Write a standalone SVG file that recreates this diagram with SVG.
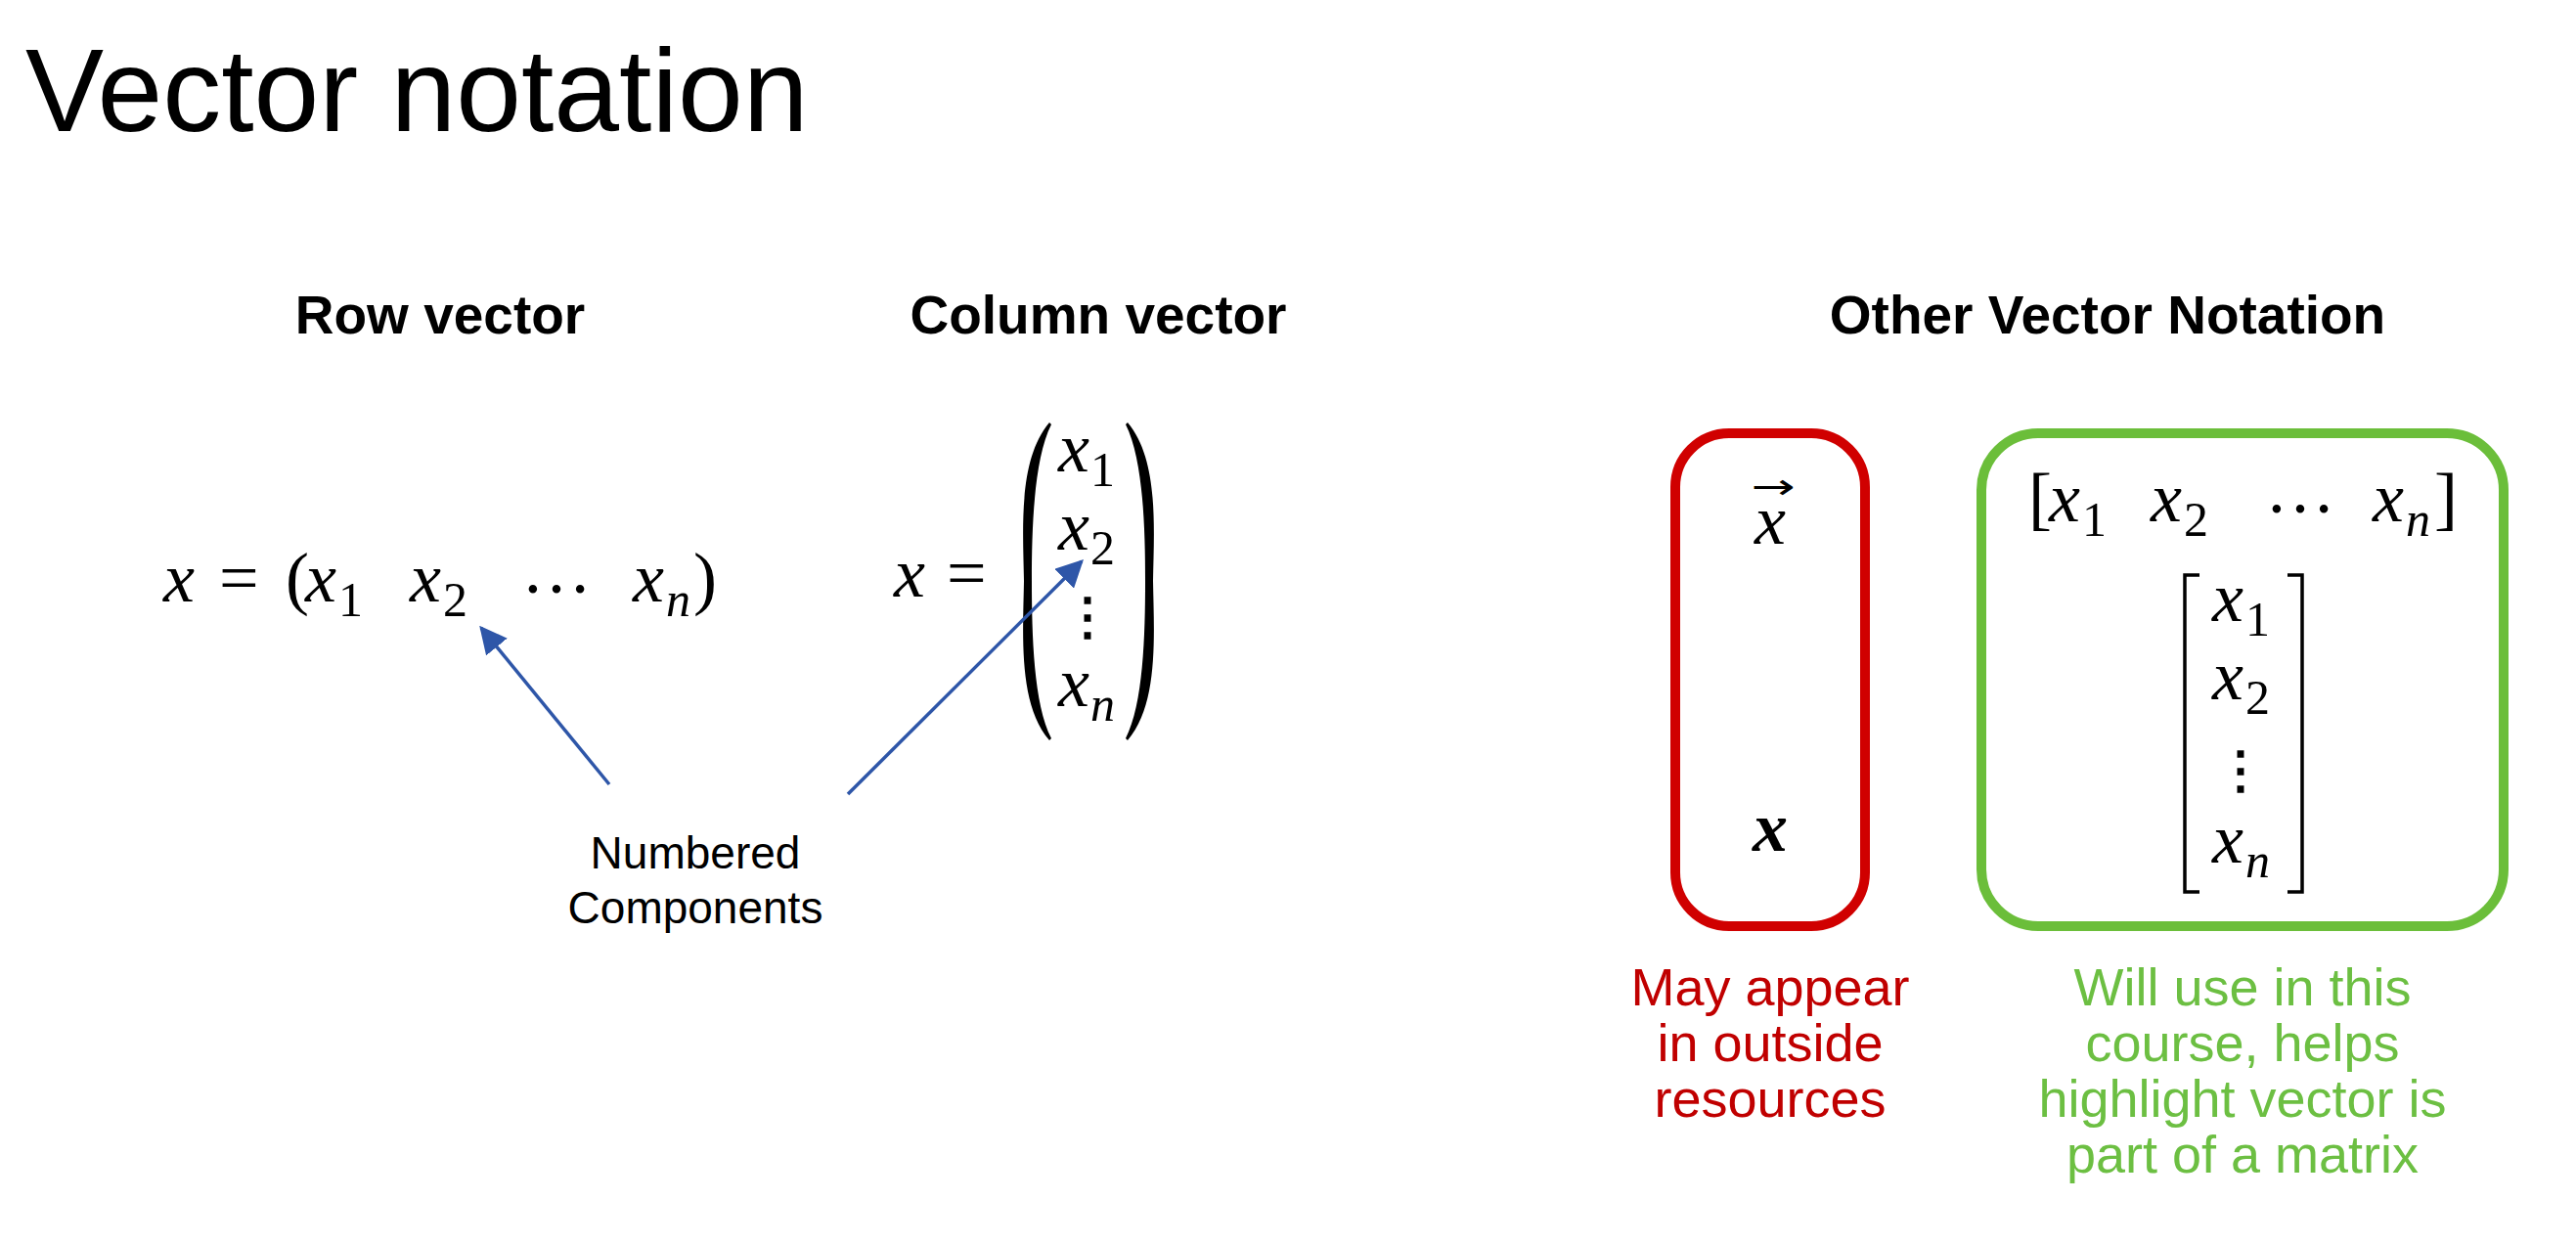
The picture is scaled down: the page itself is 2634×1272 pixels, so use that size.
<svg xmlns="http://www.w3.org/2000/svg" width="2634" height="1272" viewBox="0 0 2634 1272">
<style>
.title{font-family:"Liberation Sans",Arial,sans-serif;font-size:120px;fill:#000}
.head{font-family:"Liberation Sans",Arial,sans-serif;font-size:55px;font-weight:bold;fill:#000;text-anchor:middle}
.lbl{font-family:"Liberation Sans",Arial,sans-serif;font-size:46px;fill:#000;text-anchor:middle}
.red{font-family:"Liberation Sans",Arial,sans-serif;font-size:54px;fill:#C00000;text-anchor:middle}
.green{font-family:"Liberation Sans",Arial,sans-serif;font-size:54px;fill:#6CBF42;text-anchor:middle}
.m{font-family:"Liberation Serif","Times New Roman",serif;font-size:72px;fill:#000}
.mi{font-family:"Liberation Serif","Times New Roman",serif;font-size:72px;font-style:italic;fill:#000}
.sub{font-family:"Liberation Serif","Times New Roman",serif;font-size:50px;fill:#000}
.subi{font-family:"Liberation Serif","Times New Roman",serif;font-size:50px;font-style:italic;fill:#000}
.vd{font-family:"DejaVu Serif",serif;font-size:52px;font-weight:bold;fill:#000;text-anchor:middle}
.conn{stroke:#2E56A8;stroke-width:3.5;fill:none}
.brk{stroke:#000;stroke-width:3.5;fill:none}
</style>
<defs>
<marker id="ah" viewBox="0 0 10 10" refX="9" refY="5" markerWidth="8" markerHeight="8" markerUnits="strokeWidth" orient="auto">
<path d="M0,0 L10,5 L0,10 Z" fill="#2E56A8"/>
</marker>
</defs>
<rect width="2634" height="1272" fill="#fff"/>

<g id="title"><text class="title" x="26" y="134">Vector notation</text></g>

<g id="row-vector">
<text class="head" x="450" y="341">Row vector</text>
<text class="mi" x="167" y="615">x</text>
<text class="m" x="224" y="615">=</text>
<text class="m" x="292" y="615">(</text>
<text class="mi" x="312" y="615">x</text><text class="sub" x="346" y="630">1</text>
<text class="mi" x="419" y="615">x</text><text class="sub" x="453" y="630">2</text>
<text class="m" x="533" y="606">…</text>
<text class="mi" x="647" y="615">x</text><text class="subi" x="681" y="630">n</text>
<text class="m" x="709" y="615">)</text>
</g>

<g id="column-vector">
<text class="head" x="1123" y="341">Column vector</text>
<text class="mi" x="914" y="610">x</text>
<text class="m" x="968" y="610">=</text>
<path d="M1073,432 C1041,470 1046,540 1047,594 C1046,650 1041,720 1073,757 L1075,755 C1057,720 1055,650 1055,594 C1055,540 1057,470 1075,434 Z" fill="#000"/>
<path d="M1153,432 C1185,470 1180,540 1179,594 C1180,650 1185,720 1153,757 L1151,755 C1169,720 1171,650 1171,594 C1171,540 1169,470 1151,434 Z" fill="#000"/>
<text class="mi" x="1082" y="482">x</text><text class="sub" x="1115" y="497">1</text>
<text class="mi" x="1082" y="562">x</text><text class="sub" x="1115" y="577">2</text>
<text class="vd" x="1112" y="648">⋮</text>
<text class="mi" x="1082" y="722">x</text><text class="subi" x="1115" y="737">n</text>
</g>

<g id="numbered-components">
<text class="lbl" x="711" y="888">Numbered</text>
<text class="lbl" x="711" y="944">Components</text>
</g>

<g id="connectors">
<line class="conn" x1="623" y1="802" x2="492" y2="642" marker-end="url(#ah)"/>
<line class="conn" x1="867" y1="812" x2="1106" y2="574" marker-end="url(#ah)"/>
</g>

<g id="other-heading"><text class="head" x="2155" y="341">Other Vector Notation</text></g>

<g id="red-box">
<rect x="1713" y="443" width="194" height="504" rx="55" ry="55" fill="none" stroke="#D00000" stroke-width="10"/>
<text x="0" y="0" transform="translate(1813,510) scale(1.5,1)" font-family="DejaVu Sans,sans-serif" font-size="36" text-anchor="middle" fill="#000">→</text>
<text class="mi" x="1810" y="556" text-anchor="middle">x</text>
<text class="mi" x="1810" y="870" text-anchor="middle" font-weight="bold">x</text>
<text class="red" x="1810" y="1028">May appear</text>
<text class="red" x="1810" y="1085">in outside</text>
<text class="red" x="1810" y="1142">resources</text>
</g>

<g id="green-box">
<rect x="2026" y="443" width="534" height="504" rx="58" ry="58" fill="none" stroke="#6BBE3A" stroke-width="10"/>
<text class="m" x="2074" y="533">[</text>
<text class="mi" x="2095" y="533">x</text><text class="sub" x="2129" y="548">1</text>
<text class="mi" x="2199" y="533">x</text><text class="sub" x="2233" y="548">2</text>
<text class="m" x="2316" y="524">…</text>
<text class="mi" x="2426" y="533">x</text><text class="subi" x="2460" y="548">n</text>
<text class="m" x="2489" y="533">]</text>
<path class="brk" d="M2249,588 H2234 V912 H2249"/>
<path class="brk" d="M2339,588 H2354 V912 H2339"/>
<text class="mi" x="2262" y="635">x</text><text class="sub" x="2296" y="650">1</text>
<text class="mi" x="2262" y="715">x</text><text class="sub" x="2296" y="730">2</text>
<text class="vd" x="2291" y="805">⋮</text>
<text class="mi" x="2262" y="882">x</text><text class="subi" x="2296" y="897">n</text>
<text class="green" x="2293" y="1028">Will use in this</text>
<text class="green" x="2293" y="1085">course, helps</text>
<text class="green" x="2293" y="1142">highlight vector is</text>
<text class="green" x="2293" y="1199">part of a matrix</text>
</g>
</svg>
